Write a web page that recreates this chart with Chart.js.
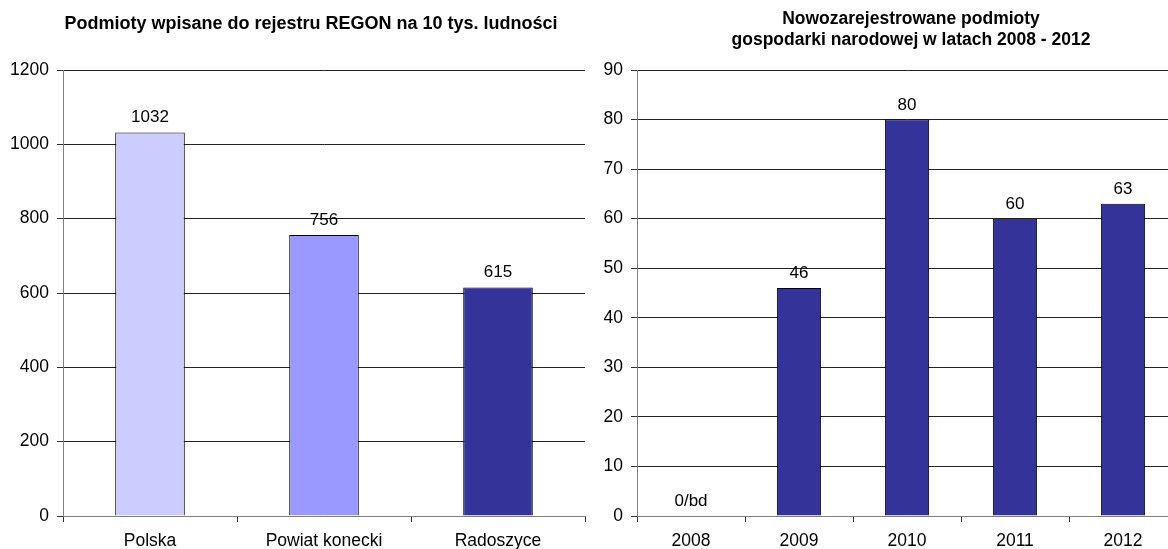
<!DOCTYPE html>
<html>
<head>
<meta charset="utf-8">
<script src="https://cdn.jsdelivr.net/npm/chart.js@4.4.1/dist/chart.umd.min.js"></script>
<style>
  html, body { margin: 0; padding: 0; background: #fff; overflow: hidden; }
  body { width: 1168px; height: 549px; position: relative; }
  #left { position: absolute; left: 0; top: 0; }
  #right { position: absolute; left: 590px; top: 0; }
</style>
</head>
<body>
<canvas id="left" width="622" height="549"></canvas>
<canvas id="right" width="640" height="549"></canvas>
<script>
// chart 1 - podmioty na 10 tys. ludnosci
const regonCategories = ["Polska", "Powiat konecki", "Radoszyce"];
const regonValues = [1032, 756, 615];
const regonColors = ["#CCCCFF", "#9999FF", "#333399"];

// chart 2 - nowe podmioty 2008-2012
const years = ["2008", "2009", "2010", "2011", "2012"];
const newValues = [0, 46, 80, 60, 63];
const newLabels = ["0/bd", "46", "80", "60", "63"];

const FONT = "'Liberation Sans', Arial, sans-serif";
Chart.defaults.font.family = FONT;
Chart.defaults.color = "#000";
Chart.defaults.animation = false;

// labels above bars
const barLabels = {
  id: "barLabels",
  afterDatasetsDraw(chart, args, opts) {
    const ctx = chart.ctx;
    const meta = chart.getDatasetMeta(0);
    ctx.save();
    ctx.font = "17px " + FONT;
    ctx.fillStyle = "#000";
    ctx.textAlign = "center";
    ctx.textBaseline = "alphabetic";
    meta.data.forEach(function (bar, i) {
      ctx.fillText(opts.texts[i], bar.x, bar.y - 10);
    });
    ctx.restore();
  }
};

// title drawn by hand, the built-in one can only centre on the whole canvas
const topTitle = {
  id: "topTitle",
  afterDraw(chart, args, opts) {
    const ctx = chart.ctx;
    ctx.save();
    ctx.font = "bold " + opts.size + "px " + FONT;
    ctx.fillStyle = "#000";
    ctx.textAlign = "center";
    ctx.textBaseline = "middle";
    opts.lines.forEach(function (line, i) {
      ctx.fillText(line, opts.x, opts.y + i * opts.lineHeight);
    });
    ctx.restore();
  }
};

function makeConfig(o) {
  return {
    type: "bar",
    data: {
      labels: o.labels,
      datasets: [{
        data: o.values,
        backgroundColor: o.colors,
        borderColor: "#000",
        borderWidth: 1,
        barPercentage: o.barPct,
        categoryPercentage: 1
      }]
    },
    options: {
      responsive: false,
      layout: { padding: { left: 0, right: o.padRight, bottom: 0, top: 70 } },
      plugins: {
        legend: { display: false },
        tooltip: { enabled: false },
        title: { display: false },
        topTitle: o.title,
        barLabels: { texts: o.texts }
      },
      scales: {
        x: {
          grid: { display: true, drawOnChartArea: false, drawTicks: true, tickLength: 6, offset: true, tickColor: "#333" },
          border: { color: "#808080", width: 1 },
          ticks: { font: { size: 17.5 }, color: "#000", padding: 9, maxRotation: 0 },
          afterFit: function (s) { s.height = 33; }
        },
        y: {
          min: 0,
          max: o.max,
          ticks: {
            stepSize: o.step, font: { size: 17.5 }, color: "#000", padding: 8,
            callback: function (v) { return String(v); }
          },
          grid: {
            color: function (c) { return c.tick && c.tick.value === 0 ? "#808080" : "#222"; },
            tickColor: "#333",
            tickLength: 6
          },
          border: { color: "#808080", width: 1 },
          afterFit: function (s) { s.width = o.yWidth; }
        }
      }
    },
    plugins: [barLabels, topTitle]
  };
}

new Chart(document.getElementById("left"), makeConfig({
  labels: regonCategories, values: regonValues, colors: regonColors,
  texts: regonValues.map(String), max: 1200, step: 200,
  title: { lines: ["Podmioty wpisane do rejestru REGON na 10 tys. ludności"], size: 18, x: 311, y: 24, lineHeight: 21 },
  yWidth: 63, padRight: 37, barPct: 0.4
}));

new Chart(document.getElementById("right"), makeConfig({
  labels: years, values: newValues, colors: "#333399",
  texts: newLabels, max: 90, step: 10,
  title: { lines: ["Nowozarejestrowane podmioty", "gospodarki narodowej w latach 2008 - 2012"], size: 17.5, x: 321, y: 19, lineHeight: 21 },
  yWidth: 47, padRight: 53, barPct: 0.41
}));
</script>
</body>
</html>
